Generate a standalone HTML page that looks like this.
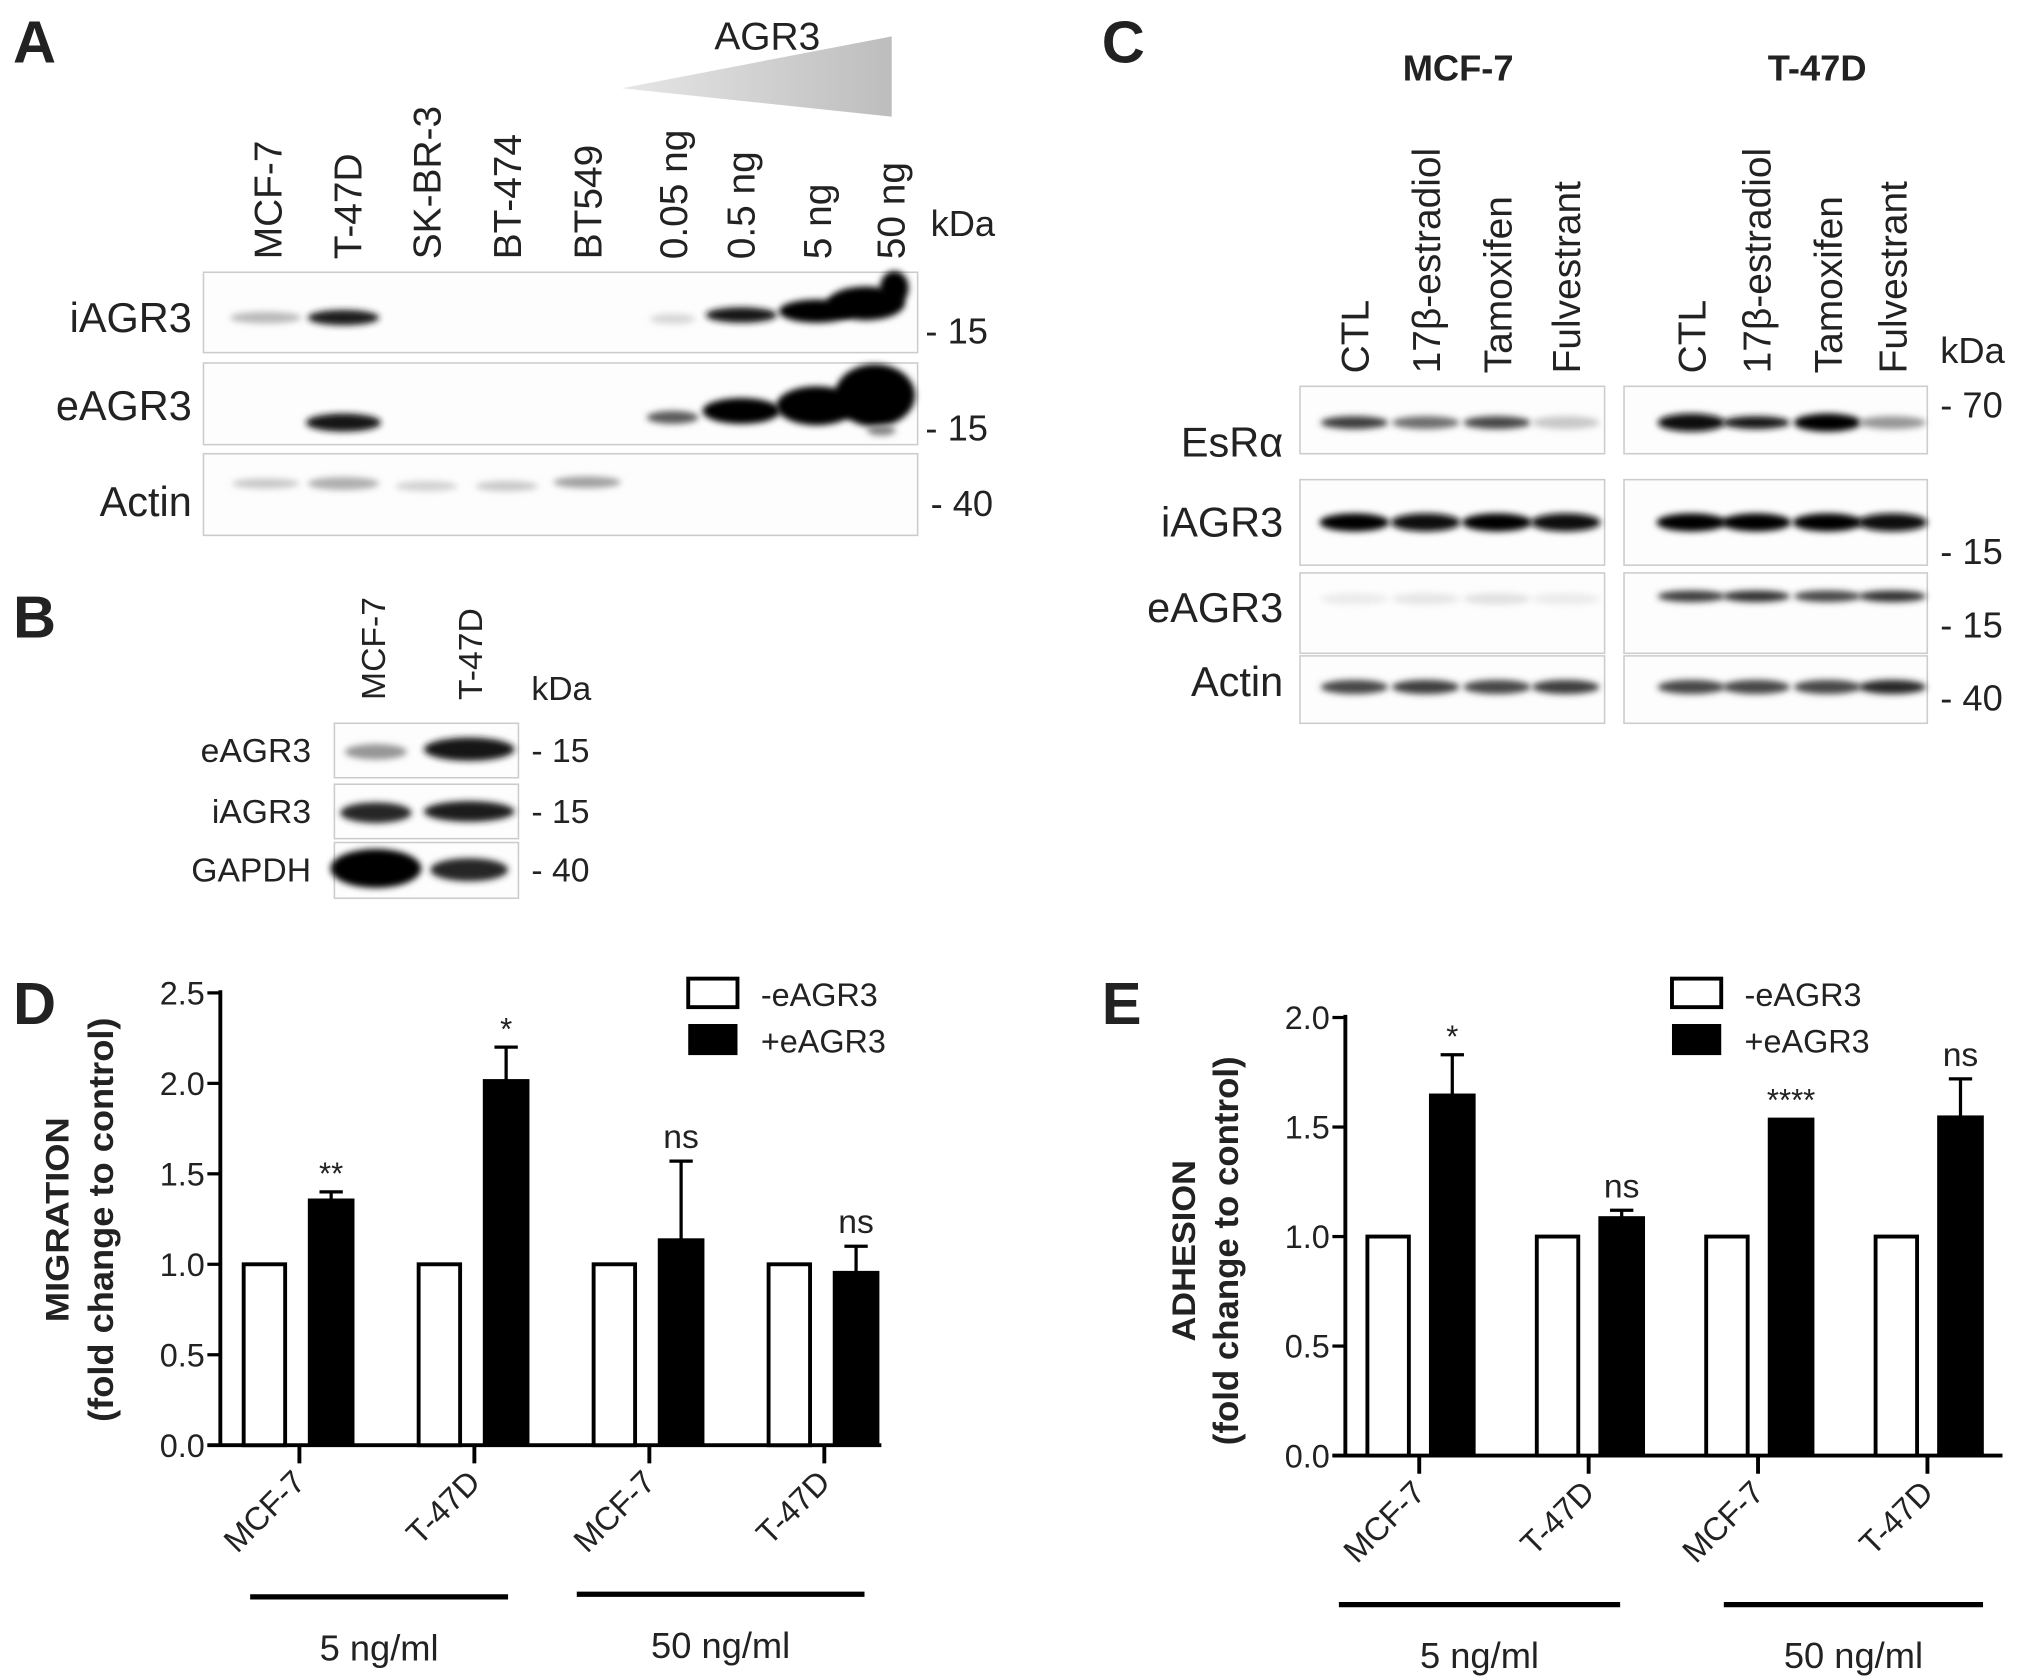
<!DOCTYPE html>
<html><head><meta charset="utf-8"><style>
html,body{margin:0;padding:0;background:#fff}
svg{display:block}
text{font-family:"Liberation Sans",sans-serif;fill:#222}
</style></head><body>
<svg id="fig" width="2031" height="1676" viewBox="0 0 1567 1293" xmlns="http://www.w3.org/2000/svg">
<defs>
<filter id="blur" x="-30%" y="-100%" width="160%" height="300%"><feGaussianBlur stdDeviation="2.5"/></filter>
<linearGradient id="tri" x1="0" x2="1"><stop offset="0" stop-color="#e6e6e6"/><stop offset="1" stop-color="#bdbdbd"/></linearGradient>
</defs>
<g id="blots"></g>
<g id="chartD"></g>
<g id="chartE"></g>
</svg>
<script>
// ---- chart data ----
const categories = ["MCF-7","T-47D","MCF-7","T-47D"];
const migrationControl = [1,1,1,1];
const migrationTreated = [1.36,2.02,1.14,0.96];
const migrationError = [0.04,0.18,0.43,0.14];
const migrationSig = ["**","*","ns","ns"];
const adhesionControl = [1,1,1,1];
const adhesionTreated = [1.65,1.09,1.54,1.55];
const adhesionError = [0.18,0.03,0.0,0.17];
const adhesionSig = ["*","ns","****","ns"];
const migrationTicks = ["0.0","0.5","1.0","1.5","2.0","2.5"];
const adhesionTicks = ["0.0","0.5","1.0","1.5","2.0"];
const groupLabels = ["5 ng/ml","50 ng/ml"];

const NS="http://www.w3.org/2000/svg";
function mk(parent,tag,attrs,txt){const e=document.createElementNS(NS,tag);for(const k in attrs)e.setAttribute(k,attrs[k]);if(txt!==undefined)e.textContent=txt;parent.appendChild(e);return e;}

// ---------- BLOTS ----------
const B=document.getElementById('blots');
function label(x,y,t,opt){const e=mk(B,'text',Object.assign({x:x,y:y,'font-size':32},opt||{}),t);

return e;}
function vlabel(x,y,t,fs){const e=mk(B,'text',{x:0,y:0,'font-size':fs||30,transform:`translate(${x},${y}) rotate(-90)`},t);

}
function box(x,y,w,h){const e=mk(B,'rect',{x:x,y:y,width:w,height:h,fill:'#fdfdfd',stroke:'#ccc','stroke-width':1.2});

}
function band(cx,cy,w,h,g){const e=mk(B,'ellipse',{cx:cx,cy:cy,rx:w/2,ry:h/2,fill:`rgb(${g},${g},${g})`,filter:'url(#blur)'});

}
[["A",10,48],["B",10,492],["C",850,48],["D",10,790],["E",850,790]].forEach(p=>{const e=mk(B,'text',{x:p[1],y:p[2],'font-size':46,'font-weight':'bold',fill:'#111'},p[0]);

});
// Panel A
mk(B,'polygon',{points:"480,68 688,28 688,90",fill:"url(#tri)"});
label(592,38,"AGR3",{'text-anchor':'middle','font-size':30});
const laneA=[206,268,329,391,453,519,571,630,687];
const namesA=["MCF-7","T-47D","SK-BR-3","BT-474","BT549","0.05 ng","0.5 ng","5 ng","50 ng"];
namesA.forEach((n,i)=>vlabel(laneA[i]+11,200,n,30));
label(718,182,"kDa",{'font-size':28});
box(157,210,551,62);box(157,280,551,63);box(157,350,551,63);
label(148,256,"iAGR3",{'text-anchor':'end'});label(148,324,"eAGR3",{'text-anchor':'end'});label(148,398,"Actin",{'text-anchor':'end'});
label(714,265,"- 15",{'font-size':28});label(714,340,"- 15",{'font-size':28});label(718,398,"- 40",{'font-size':28});
band(205,245,55,9,185);band(265,245,55,12,30);band(519,246,35,8,215);band(572,243,55,12,25);band(630,240,58,18,5);
band(668,234,60,26,0);band(690,222,22,26,0);
band(265,326,58,14,20);band(519,322,40,10,90);band(572,317,60,20,5);band(630,313,62,30,0);band(675,305,62,48,0);band(680,332,22,8,130);
band(205,373,52,8,200);band(265,373,55,10,175);band(329,375,48,8,210);band(391,375,48,8,200);band(453,372,52,9,160);
// Panel B
vlabel(297,540,"MCF-7",26);vlabel(372,540,"T-47D",26);
label(410,540,"kDa",{'font-size':26});
box(258,558,142,42);box(258,605,142,42);box(258,650,142,43);
label(240,588,"eAGR3",{'text-anchor':'end','font-size':26});label(240,635,"iAGR3",{'text-anchor':'end','font-size':26});label(240,680,"GAPDH",{'text-anchor':'end','font-size':26});
label(410,588,"- 15",{'font-size':26});label(410,635,"- 15",{'font-size':26});label(410,680,"- 40",{'font-size':26});
band(290,580,48,12,150);band(362,578,70,18,20);band(290,627,55,16,40);band(362,626,70,16,30);band(290,670,70,30,0);band(362,671,60,18,40);
// Panel C
label(1125,62,"MCF-7",{'text-anchor':'middle','font-weight':'bold','font-size':28});
label(1402,62,"T-47D",{'text-anchor':'middle','font-weight':'bold','font-size':28});
const laneC=[1045,1100,1155,1208,1305,1355,1410,1460];
const namesC=["CTL","17β-estradiol","Tamoxifen","Fulvestrant","CTL","17β-estradiol","Tamoxifen","Fulvestrant"];
namesC.forEach((n,i)=>vlabel(laneC[i]+11,288,n,30));
label(1497,280,"kDa",{'font-size':28});
[[298,52],[370,66],[442,62],[506,52]].forEach(r=>{box(1003,r[0],235,r[1]);box(1253,r[0],234,r[1]);});
label(990,352,"EsRα",{'text-anchor':'end'});label(990,414,"iAGR3",{'text-anchor':'end'});label(990,480,"eAGR3",{'text-anchor':'end'});label(990,537,"Actin",{'text-anchor':'end'});
label(1497,322,"- 70",{'font-size':28});label(1497,435,"- 15",{'font-size':28});label(1497,492,"- 15",{'font-size':28});label(1497,548,"- 40",{'font-size':28});
[60,110,70,200,15,25,5,150].forEach((g,i)=>band(laneC[i],326,52,g<20?14:10,g));
[5,10,5,15,0,5,0,15].forEach((g,i)=>band(laneC[i],403,54,14,g));
[235,230,225,235,60,50,70,50].forEach((g,i)=>band(laneC[i],462-(i>3?2:0),52,9,g));
[70,60,70,60,70,70,70,40].forEach((g,i)=>band(laneC[i],530,52,11,g));

// ---------- BAR CHARTS ----------
function barChart(gid,o){
 const G=document.getElementById(gid);
 const y=v=>o.y0-(v-0)*(o.y0-o.yTop)/o.ymax;
 const ax=mk(G,'line',{x1:o.ax,y1:y(o.ymax)-2,x2:o.ax,y2:o.y0+1,stroke:'#000','stroke-width':3});
 
 
 const xa=mk(G,'line',{x1:o.ax-10,y1:o.y0,x2:o.axEnd,y2:o.y0,stroke:'#000','stroke-width':3});
 
 
 o.ticks.forEach(t=>{const v=parseFloat(t),yy=y(v);
  mk(G,'line',{x1:o.ax-10,y1:yy,x2:o.ax,y2:yy,stroke:'#000','stroke-width':2.5});
  const tl=mk(G,'text',{x:o.ax-12,y:yy+9,'font-size':25,'text-anchor':'end'},t);
  
  });
 categories.forEach((c,i)=>{const cx=o.c0+i*o.step;
  const w=mk(G,'rect',{x:cx+o.wOff,y:y(o.ctrl[i]),width:32,height:o.y0-y(o.ctrl[i]),fill:'#fff',stroke:'#000','stroke-width':3});
  
  
  const top=y(o.trt[i]);
  const b=mk(G,'rect',{x:cx+o.bOff,y:top,width:35,height:o.y0-top,fill:'#000',stroke:'#000','stroke-width':1});
  
  
  const bc=cx+o.bOff+17.5;
  const et=y(o.trt[i]+o.err[i]);
  if(o.err[i]>0){mk(G,'line',{x1:bc,y1:top,x2:bc,y2:et,stroke:'#000','stroke-width':2.5});
  mk(G,'line',{x1:bc-9,y1:et,x2:bc+9,y2:et,stroke:'#000','stroke-width':2.5});}
  const s=mk(G,'text',{x:bc,y:et-(o.sig[i]==='ns'?10:6),'font-size':o.sig[i]==='ns'?26:24,'text-anchor':'middle'},o.sig[i]);
  
  
  mk(G,'line',{x1:cx,y1:o.y0,x2:cx,y2:o.y0+14,stroke:'#000','stroke-width':3});
  const xl=mk(G,'text',{x:0,y:0,'font-size':25,'text-anchor':'end',transform:`translate(${cx+6},${o.y0+30}) rotate(-45)`},c);
  
  });
 o.groups.forEach((g,i)=>{mk(G,'line',{x1:g[0],y1:g[2],x2:g[1],y2:g[2],stroke:'#000','stroke-width':4});
  const gt=mk(G,'text',{x:(g[0]+g[1])/2,y:g[2]+49,'font-size':28,'text-anchor':'middle'},groupLabels[i]);
  
  });
 const t1=mk(G,'text',{x:0,y:0,'font-size':25,'font-weight':'bold','text-anchor':'middle',textLength:o.tl1,lengthAdjust:'spacingAndGlyphs',transform:`translate(${o.tx},${o.ty}) rotate(-90)`},o.title);
 
 
 const t2=mk(G,'text',{x:0,y:0,'font-size':27,'font-weight':'bold','text-anchor':'middle',textLength:o.tl2,lengthAdjust:'spacingAndGlyphs',transform:`translate(${o.tx2},${o.ty}) rotate(-90)`},"(fold change to control)");
 
 
 const l1=mk(G,'rect',{x:o.lx,y:755,width:38,height:22,fill:'#fff',stroke:'#000','stroke-width':3});
 
 
 const l2=mk(G,'rect',{x:o.lx,y:790,width:38,height:24,fill:'#000'});
 
 
 const lt1=mk(G,'text',{x:o.lx+56,y:776,'font-size':25},"-eAGR3");
 
 
 const lt2=mk(G,'text',{x:o.lx+56,y:812,'font-size':25},"+eAGR3");
 
 
}
barChart('chartD',{ax:170,axEnd:680,y0:1115,yTop:766,ymax:2.5,ticks:migrationTicks,c0:231,step:135,wOff:-43,bOff:7,
 ctrl:migrationControl,trt:migrationTreated,err:migrationError,sig:migrationSig,
 groups:[[193,392,1232],[445,667,1230]],title:"MIGRATION",tx:53,tx2:87,ty:941,tl1:158,tl2:312,lx:531});
barChart('chartE',{ax:1038,axEnd:1545,y0:1123,yTop:785,ymax:2.0,ticks:adhesionTicks,c0:1095,step:130.7,wOff:-40,bOff:8,
 ctrl:adhesionControl,trt:adhesionTreated,err:adhesionError,sig:adhesionSig,
 groups:[[1033,1250,1238],[1330,1530,1238]],title:"ADHESION",tx:922,tx2:955,ty:965,tl1:140,tl2:300,lx:1290});
</script>
</body></html>
